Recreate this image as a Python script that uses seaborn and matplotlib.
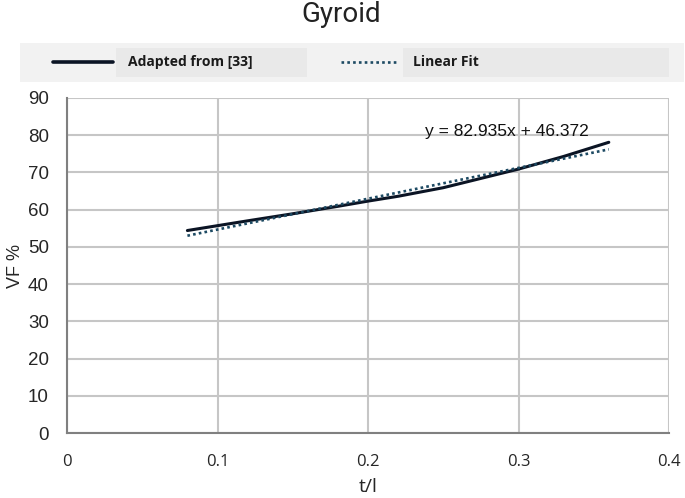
import numpy as np
import matplotlib.pyplot as plt
import pandas as pd
import seaborn as sns
from matplotlib.patches import Rectangle

# values
t_l = [0.08, 0.10, 0.12, 0.15, 0.18, 0.20, 0.22, 0.25, 0.28, 0.30, 0.33, 0.36]
vf = [54.4, 55.7, 57.0, 58.9, 60.9, 62.3, 63.6, 65.9, 68.9, 70.9, 74.3, 78.1]

fit_x = [0.08, 0.36]
fit_y = [53.0, 76.2]

fit_label = "y = 82.935x + 46.372"
x_ticks = [0, 0.1, 0.2, 0.3, 0.4]
x_tick_labels = ['0', '0.1', '0.2', '0.3', '0.4']
y_ticks = list(range(0, 100, 10))

sns.set_theme(style="whitegrid")
plt.rcParams['font.family'] = ['Liberation Sans', 'DejaVu Sans']

df = pd.DataFrame({'t/l': t_l, 'VF %': vf})
df_fit = pd.DataFrame({'t/l': fit_x, 'VF %': fit_y})

fig = plt.figure(figsize=(6.85, 4.98), dpi=100)
ax = fig.add_axes([67/685, 1-433/498, 602/685, 335/498])

sns.lineplot(data=df, x='t/l', y='VF %', ax=ax, color='#0b1424', linewidth=2.2,
             label='Adapted from [33]', legend=False)
sns.lineplot(data=df_fit, x='t/l', y='VF %', ax=ax, color='#1d4a63', linewidth=1.9,
             linestyle=(0, (1, 1.2)), label='Linear Fit', legend=False)

ax.set_xlim(0, 0.4)
ax.set_ylim(0, 90)
ax.set_xticks(x_ticks)
ax.set_xticklabels(x_tick_labels, fontfamily=['Open Sans', 'DejaVu Sans'], fontsize=12)
ax.set_yticks(y_ticks)
ax.grid(True, color='#c6c6c6', linewidth=1.5)
for s in ['top', 'right']:
    ax.spines[s].set_visible(False)
for s in ['left', 'bottom']:
    ax.spines[s].set_color('#808080')
    ax.spines[s].set_linewidth(1.5)
ax.tick_params(axis='both', colors='#262626', length=0)
ax.tick_params(axis='y', labelsize=13.5, pad=13)
ax.tick_params(axis='x', pad=15)

ax.set_xlabel('t/l', fontsize=14, color='#262626', family=['Open Sans', 'DejaVu Sans'],
              va='center')
ax.xaxis.set_label_coords(0.5, -0.161)
ax.set_ylabel('VF %', fontsize=13, color='#262626', va='center')
ax.yaxis.set_label_coords(-0.086, 0.5)

ax.text(0.238, 81.1, fit_label, fontsize=12.5, color='#111111',
        va='center', ha='left')

fig.text(341/685, 1-22/498, 'Gyroid', ha='center', va='baseline', fontsize=20,
         color='#222222', family=['Roboto', 'DejaVu Sans'])

# legend band on top
fig.patches.append(Rectangle((20/685, 1-82/498), 664/685, 39/498,
                             transform=fig.transFigure, facecolor='#f2f2f2',
                             edgecolor='none', zorder=0))
fig.patches.append(Rectangle((116/685, 1-77/498), 191/685, 29/498,
                             transform=fig.transFigure, facecolor='#e9e9e9',
                             edgecolor='none', zorder=0))
fig.patches.append(Rectangle((403/685, 1-77/498), 266/685, 29/498,
                             transform=fig.transFigure, facecolor='#e9e9e9',
                             edgecolor='none', zorder=0))
handles, labels = ax.get_legend_handles_labels()
ly = 1-62/498
fig.lines.append(plt.Line2D([53/685, 113/685], [ly, ly], transform=fig.transFigure,
                            color='#0b1424', linewidth=2.6))
fig.lines.append(plt.Line2D([341/685, 396/685], [ly, ly], transform=fig.transFigure,
                            color='#1d4a63', linewidth=1.9, linestyle=(0, (1, 1.2))))
fig.text(128/685, ly, labels[0], fontsize=10, fontweight='bold', va='center',
         color='#1a1a1a', family=['Open Sans', 'DejaVu Sans'])
fig.text(413/685, ly, labels[1], fontsize=10, fontweight='bold', va='center',
         color='#1a1a1a', family=['Open Sans', 'DejaVu Sans'])

fig.savefig('out.png', dpi=100)
